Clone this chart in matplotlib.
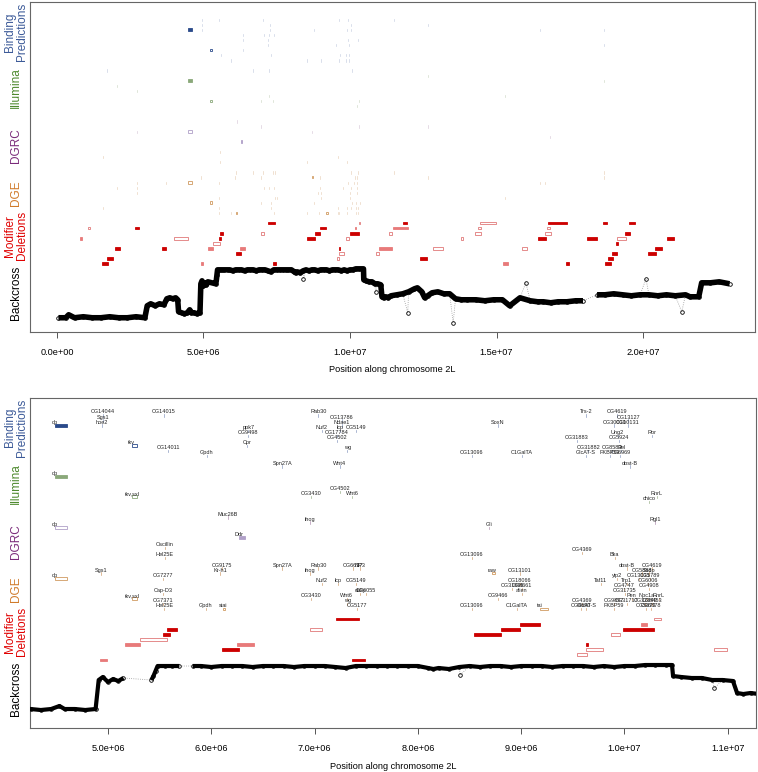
import matplotlib
matplotlib.use("Agg")
import matplotlib.pyplot as plt
from matplotlib.patches import Rectangle
from matplotlib.transforms import blended_transform_factory
from matplotlib.ticker import FuncFormatter
import numpy as np

plt.rcParams['font.family'] = ['Liberation Sans', 'DejaVu Sans']

# backcross allele frequency along 2L (position in Mb)
backcross_pos = [0.05, 0.3, 0.4, 0.6, 0.9, 1.2, 1.5, 1.8, 2.1, 2.4, 2.7, 3.0,
                 3.08, 3.2, 3.35, 3.5, 3.65, 3.75, 3.85, 3.95, 4.05, 4.12,
                 4.15, 4.25, 4.35, 4.45, 4.53, 4.58, 4.68, 4.78, 4.88,
                 4.91, 4.95, 5.0, 5.05, 5.1, 5.15, 5.42, 5.44, 5.46,
                 5.48, 5.55, 5.62, 5.69, 5.82, 5.9, 6.0, 6.1, 6.2, 6.3, 6.4, 6.5,
                 6.6, 6.7, 6.8, 6.9, 7.0, 7.1, 7.2, 7.3, 7.4, 7.5, 7.6, 7.7, 7.8,
                 7.9, 8.0, 8.1, 8.15, 8.2, 8.3, 8.4, 8.5, 8.6, 8.7, 8.8, 8.9, 9.0,
                 9.1, 9.2, 9.3, 9.4, 9.5, 9.6, 9.7, 9.8, 9.9, 10.0, 10.1, 10.2,
                 10.3, 10.4, 10.46, 10.47, 10.55, 10.65, 10.75, 10.85, 10.95, 11.05,
                 11.09, 11.15, 11.22, 11.3, 11.4, 11.6, 11.8, 12.0, 12.2, 12.3,
                 12.45, 12.55, 12.65, 12.8, 13.0, 13.2, 13.4, 13.6, 13.8, 14.0,
                 14.3, 14.6, 14.9, 15.2, 15.45, 15.8, 16.15, 16.4, 16.6, 16.85,
                 17.1, 17.4, 17.7, 17.95, 18.43, 18.7, 19.0, 19.3, 19.6, 19.9,
                 20.2, 20.5, 20.8, 21.1, 21.45, 21.6, 21.9, 22.0, 22.3, 22.6, 22.95]
backcross_val = [0.50, 0.50, 0.53, 0.50, 0.51, 0.50, 0.50, 0.51, 0.50, 0.50, 0.51, 0.50,
                 0.62, 0.64, 0.62, 0.64, 0.63, 0.69, 0.70, 0.69, 0.70, 0.68,
                 0.56, 0.55, 0.54, 0.55, 0.58, 0.55, 0.55, 0.54, 0.55,
                 0.84, 0.87, 0.82, 0.85, 0.83, 0.86, 0.84, 0.88, 0.93,
                 0.98, 0.98, 0.98, 0.98, 0.98, 0.98, 0.97, 0.98, 0.98, 0.98, 0.97, 0.98,
                 0.98, 0.98, 0.97, 0.98, 0.98, 0.98, 0.97, 0.96, 0.98, 0.98, 0.98, 0.98, 0.98,
                 0.98, 0.98, 0.96, 0.95, 0.96, 0.95, 0.97, 0.98, 0.97, 0.98, 0.98, 0.97, 0.98,
                 0.98, 0.98, 0.97, 0.98, 0.98, 0.98, 0.97, 0.98, 0.97, 0.98, 0.98, 0.99,
                 0.99, 0.99, 0.99, 0.88, 0.87, 0.86, 0.86, 0.84, 0.84, 0.83,
                 0.71, 0.70, 0.71, 0.70, 0.72, 0.73, 0.74, 0.76, 0.79, 0.80,
                 0.76, 0.70, 0.72, 0.75, 0.76, 0.74, 0.74, 0.69, 0.68, 0.68,
                 0.68, 0.67, 0.68, 0.68, 0.62, 0.70, 0.67, 0.66, 0.66, 0.65,
                 0.66, 0.66, 0.67, 0.67, 0.73, 0.73, 0.74, 0.73, 0.72, 0.73,
                 0.73, 0.72, 0.73, 0.72, 0.73, 0.71, 0.71, 0.85, 0.85, 0.86, 0.84]
outlier_pos = [8.41, 10.87, 11.97, 13.52, 16.0, 20.1, 21.32]
outlier_val = [0.89, 0.76, 0.55, 0.45, 0.85, 0.89, 0.56]

# modifier deletions: start, end (Mb), row from top (0-8), kind
del_start = [0.79, 1.07, 1.55, 1.72, 1.98, 2.66, 3.59, 4.00, 4.92, 5.16, 5.31, 5.53, 5.57,
             6.10, 6.25, 6.96, 7.21, 7.36, 8.54, 8.80, 8.99, 9.54, 9.63, 9.63, 9.87, 9.99,
             10.16, 10.29, 10.87, 11.00, 11.34, 11.46, 11.80, 12.39, 12.84, 13.78, 14.27,
             14.38, 14.44, 15.23, 15.88, 16.43, 16.66, 16.71, 16.77, 17.36, 18.10, 18.65,
             18.70, 18.82, 18.93, 19.08, 19.12, 19.39, 19.53, 20.18, 20.41, 20.83]
del_end = [0.85, 1.14, 1.73, 1.90, 2.15, 2.81, 3.72, 4.46, 4.99, 5.31, 5.57, 5.60, 5.67,
           6.27, 6.41, 7.07, 7.43, 7.49, 8.80, 8.99, 9.18, 9.64, 9.79, 9.645, 9.96, 10.29,
           10.22, 10.35, 10.99, 11.42, 11.42, 11.97, 11.96, 12.64, 13.16, 13.87, 14.46,
           14.46, 14.97, 15.40, 16.03, 16.69, 16.86, 16.83, 17.42, 17.47, 18.42, 18.78,
           18.90, 18.99, 19.12, 19.13, 19.42, 19.56, 19.73, 20.43, 20.66, 21.07]
del_row = [3, 1, 8, 7, 5, 1, 5, 3, 8, 5, 4, 3, 2,
           6, 5, 2, 0, 8, 3, 2, 1, 7, 6, 5, 3, 2,
           1, 0, 6, 5, 2, 1, 0, 7, 5, 3, 2,
           1, 0, 8, 5, 3, 2, 1, 0, 8, 3, 0,
           8, 7, 6, 4, 3, 2, 0, 6, 5, 3]
del_kind = ['weak', 'open', 'strong', 'strong', 'strong', 'strong', 'strong', 'open', 'weak',
            'weak', 'open', 'strong', 'strong', 'strong', 'weak', 'open', 'strong', 'strong',
            'strong', 'strong', 'strong', 'open', 'open', 'strong', 'open', 'strong', 'weak',
            'open', 'open', 'weak', 'open', 'weak', 'strong', 'strong', 'open', 'open', 'open',
            'open', 'open', 'weak', 'open', 'strong', 'open', 'open', 'strong', 'strong',
            'strong', 'strong', 'strong', 'strong', 'strong', 'strong', 'open', 'strong',
            'strong', 'strong', 'strong', 'strong']

# gene features per track: name, start (Mb), end (Mb), lane
binding_genes = [
    ("", 1.70, 1.705, 38), ("dp", 4.487, 4.60, 46), ("hoe2", 4.942, 4.947, 46),
    ("CG14044", 4.949, 4.954, 48), ("Sgs1", 4.949, 4.954, 47), ("tkv", 5.23, 5.28, 42),
    ("CG14015", 5.542, 5.547, 48), ("CG14011", 5.584, 5.589, 41), ("Gpdh", 5.955, 5.96, 40),
    ("Cpr", 6.349, 6.354, 42), ("ppk7", 6.358, 6.363, 45), ("CG9498", 6.358, 6.363, 44),
    ("Spn27A", 6.687, 6.692, 38), ("Rab30", 7.036, 7.041, 48), ("Nuf2", 7.069, 7.074, 45),
    ("CG17784", 7.214, 7.219, 44), ("CG4502", 7.214, 7.219, 43), ("lcp", 7.246, 7.251, 45),
    ("Wnt4", 7.246, 7.251, 38), ("CG13786", 7.262, 7.267, 47), ("Ndae1", 7.262, 7.267, 46),
    ("wg", 7.317, 7.322, 41), ("CG5149", 7.398, 7.403, 45), ("CG13096", 8.521, 8.526, 40),
    ("SoxN", 8.773, 8.778, 46), ("C1GalTA", 9.005, 9.01, 40), ("CG31883", 9.537, 9.542, 43),
    ("Trs-2", 9.627, 9.632, 48), ("GlcAT-S", 9.627, 9.632, 40), ("CG31882", 9.649, 9.654, 41),
    ("FKBP59", 9.86, 9.865, 40), ("CG8583", 9.88, 9.885, 41), ("CG30010", 9.90, 9.905, 46),
    ("CG4619", 9.93, 9.935, 48), ("Uhg2", 9.934, 9.939, 44), ("CG5924", 9.95, 9.955, 43),
    ("CG6969", 9.96, 9.965, 40), ("Rel", 9.97, 9.975, 41), ("CG13127", 10.037, 10.042, 47),
    ("CG10131", 10.03, 10.035, 46), ("obst-B", 10.053, 10.058, 38), ("Ror", 10.263, 10.268, 44),
    ("", 11.51, 11.515, 48), ("", 12.67, 12.675, 47), ("", 16.48, 16.485, 46),
    ("", 18.68, 18.685, 46), ("", 18.68, 18.685, 43)]
illumina_genes = [
    ("", 2.04, 2.045, 35), ("", 2.74, 2.745, 34), ("dp", 4.487, 4.60, 36),
    ("tkv,sxl", 5.235, 5.28, 32), ("CG3430", 6.962, 6.967, 32), ("CG4502", 7.246, 7.251, 33),
    ("Wnt6", 7.365, 7.37, 32), ("chico", 10.237, 10.242, 31), ("RnrL", 10.312, 10.317, 32),
    ("", 12.67, 12.675, 37), ("", 15.29, 15.295, 33), ("", 18.68, 18.685, 36)]
dgrc_genes = [
    ("", 2.74, 2.745, 26), ("dp", 4.487, 4.60, 26), ("Muc26B", 6.159, 6.164, 28),
    ("Ddr", 6.268, 6.326, 24), ("ihog", 6.955, 6.96, 27), ("Gli", 8.688, 8.693, 26),
    ("Rgl1", 10.295, 10.30, 27), ("", 12.67, 12.675, 27), ("", 16.83, 16.835, 25)]
dge_genes = [
    ("", 1.58, 1.585, 21), ("", 1.58, 1.585, 11), ("", 2.04, 2.045, 15), ("", 2.74, 2.745, 16),
    ("", 2.74, 2.745, 15), ("", 2.74, 2.745, 14), ("", 3.71, 3.715, 16),
    ("dp", 4.487, 4.60, 16), ("Sgs1", 4.929, 4.934, 17), ("tkv,sxl", 5.235, 5.28, 12),
    ("CG7277", 5.536, 5.541, 16), ("Cap-D3", 5.536, 5.541, 13), ("CG7371", 5.536, 5.541, 11),
    ("Oscillin", 5.552, 5.557, 22), ("Hel25E", 5.552, 5.557, 20), ("Hel25E", 5.545, 5.55, 10),
    ("Gpdh", 5.949, 5.954, 10), ("Kr-h1", 6.085, 6.10, 17), ("CG9175", 6.101, 6.106, 18),
    ("stai", 6.11, 6.13, 10), ("Spn27A", 6.687, 6.692, 18), ("ihog", 6.955, 6.96, 17),
    ("CG3430", 6.962, 6.967, 12), ("Rab30", 7.036, 7.041, 18), ("Nuf2", 7.069, 7.074, 15),
    ("lcp", 7.229, 7.234, 15), ("Wnt6", 7.311, 7.316, 12), ("wg", 7.317, 7.322, 11),
    ("CG6617", 7.37, 7.375, 18), ("CG5149", 7.401, 7.406, 15), ("CG5177", 7.414, 7.419, 10),
    ("NP3", 7.44, 7.445, 18), ("dally", 7.44, 7.445, 13), ("CG6055", 7.497, 7.502, 13),
    ("CG13096", 8.521, 8.526, 20), ("CG13096", 8.521, 8.526, 10), ("raw", 8.72, 8.75, 17),
    ("CG9466", 8.779, 8.784, 12), ("CG31666", 8.911, 8.916, 14), ("C1GalTA", 8.956, 8.961, 10),
    ("CG13101", 8.988, 8.993, 17), ("CG18066", 8.988, 8.993, 15), ("alien", 9.005, 9.01, 13),
    ("CG8661", 9.008, 9.013, 14), ("tai", 9.182, 9.26, 10), ("CG4369", 9.586, 9.591, 21),
    ("CG4369", 9.586, 9.591, 11), ("CG6690", 9.58, 9.585, 10), ("GlcAT-S", 9.63, 9.635, 10),
    ("Taf11", 9.772, 9.777, 15), ("FKBP59", 9.897, 9.902, 10), ("CG9897", 9.90, 9.905, 11),
    ("Bka", 9.905, 9.91, 20), ("yip2", 9.93, 9.935, 16), ("CG4747", 9.998, 10.003, 14),
    ("CG31735", 10.005, 10.01, 13), ("obst-B", 10.02, 10.025, 18), ("Trp1", 10.02, 10.025, 15),
    ("CG31717", 10.02, 10.025, 11), ("Pen", 10.069, 10.074, 12), ("CG5888", 10.17, 10.175, 17),
    ("CG13131", 10.14, 10.145, 16), ("Npc1a", 10.215, 10.22, 12), ("CG4908", 10.237, 10.242, 14),
    ("CG32849", 10.20, 10.205, 11), ("CG5873", 10.21, 10.215, 10), ("Ssdp", 10.24, 10.245, 17),
    ("CG6006", 10.23, 10.235, 15), ("CG4619", 10.263, 10.268, 18), ("CG6878", 10.26, 10.265, 10),
    ("CG8453", 10.27, 10.275, 11), ("CG5789", 10.25, 10.255, 16), ("RnrL", 10.334, 10.339, 12),
    ("", 11.51, 11.515, 18), ("", 12.67, 12.675, 17), ("", 15.29, 15.295, 13),
    ("", 16.48, 16.485, 16), ("", 16.66, 16.665, 16), ("", 18.68, 18.685, 18),
    ("", 18.68, 18.685, 17)]

track_names = ["Binding\nPredictions", "Illumina", "DGRC", "DGE", "Modifier\nDeletions", "Backcross"]
track_lanes = [45.5, 34.5, 23.2, 13.8, 5.5, -5.75]
track_colors = ["#3c5a98", "#4e8a2e", "#7a2a7a", "#d07a2a", "#e00000", "black"]

feature_tracks = [
    (binding_genes, "#8a9ac0", "#2a4a8a", ["dp"]),
    (illumina_genes, "#9ab08a", "#8aa87a", ["dp"]),
    (dgrc_genes, "#b090b0", "#b0a0c8", ["Ddr"]),
    (dge_genes, "#d0a070", "#d09a60", []),
]
del_colors = {'strong': ('#cc0000', '#cc0000'), 'weak': ('#e87a7a', '#e87a7a'),
              'open': ('none', '#e07878')}


def bc_lane(v):
    return -10.6 + 19.6 * (np.asarray(v) - 0.5)


def draw_panel(ax, xlim, ticks, band_lw, gap, zoomed):
    lo, hi = xlim
    ax.set_xlim(lo * 1e6, hi * 1e6)
    ax.set_ylim(-13.4, 51.4)

    # backcross
    pos = np.array(backcross_pos)
    y = bc_lane(backcross_val)
    allp = np.concatenate([pos, outlier_pos])
    ally = np.concatenate([y, bc_lane(outlier_val)])
    order = np.argsort(allp)
    ax.plot(allp[order] * 1e6, ally[order], ':', color='#999999', lw=0.6, zorder=2)
    breaks = np.where(np.diff(pos) > gap)[0] + 1
    for seg_x, seg_y in zip(np.split(pos, breaks), np.split(y, breaks)):
        ax.plot(seg_x * 1e6, seg_y, '-', color='black', lw=band_lw, zorder=3,
                solid_capstyle='butt')
    ax.plot(allp * 1e6, ally, 'o', ms=2.6, mfc='none', mec='black', mew=0.6, zorder=4)

    # deletions
    for s, e, r, k in zip(del_start, del_end, del_row, del_kind):
        if zoomed and (s < lo or e > hi):
            continue
        fc, ec = del_colors[k]
        lane = 8 - r
        ax.add_patch(Rectangle((s * 1e6, lane - 0.27), (e - s) * 1e6, 0.54,
                               facecolor=fc, edgecolor=ec, lw=0.6, zorder=3))

    # gene features
    tick_alpha = 1.0 if zoomed else 0.45
    for genes, tick_col, box_col, filled in feature_tracks:
        for name, s, e, lane in genes:
            if e - s > 0.015:
                fc = box_col if name in filled else 'none'
                ax.add_patch(Rectangle((s * 1e6, lane - 0.25), (e - s) * 1e6, 0.5,
                                       facecolor=fc, edgecolor=box_col, lw=0.6, zorder=3))
            else:
                ax.plot([s * 1e6, s * 1e6], [lane - 0.3, lane + 0.15], color=tick_col,
                        lw=0.5, alpha=tick_alpha, zorder=2)
            if zoomed and name and lo <= s <= hi:
                ax.text(s * 1e6, lane + 0.6, name, fontsize=4, ha='center', va='center',
                        color='#222222', clip_on=True, zorder=5)

    # track labels in the left margin
    trans = blended_transform_factory(ax.transAxes, ax.transData)
    for name, lane, col in zip(track_names, track_lanes, track_colors):
        ax.text(-0.0195, lane, name, rotation=90, ha='center', va='center', color=col,
                fontsize=8.5, linespacing=0.95, transform=trans, clip_on=False)

    ax.set_xticks([t * 1e6 for t in ticks])
    ax.xaxis.set_major_formatter(FuncFormatter(lambda v, p: "%.1e" % v))
    ax.set_yticks([])
    ax.tick_params(axis='x', direction='out', length=4.5, width=0.7, color='#555555',
                   labelsize=6.6, pad=7)
    for sp in ax.spines.values():
        sp.set_color('#666666')
        sp.set_linewidth(0.8)
    ax.set_xlabel("Position along chromosome 2L", fontsize=6.6, labelpad=6)


fig = plt.figure(figsize=(7.58, 7.72), dpi=100)
ax_top = fig.add_axes([30 / 758, 1 - 332 / 772, 725 / 758, 330 / 772])
ax_bot = fig.add_axes([30 / 758, 1 - 728.3 / 772, 726 / 758, 330.6 / 772])

draw_panel(ax_top, (-0.92, 23.82), [0, 5, 10, 15, 20], 4.0, 0.36, False)
draw_panel(ax_bot, (4.245, 11.273), [5, 6, 7, 8, 9, 10, 11], 3.0, 0.115, True)

fig.savefig("out.png", dpi=100)
